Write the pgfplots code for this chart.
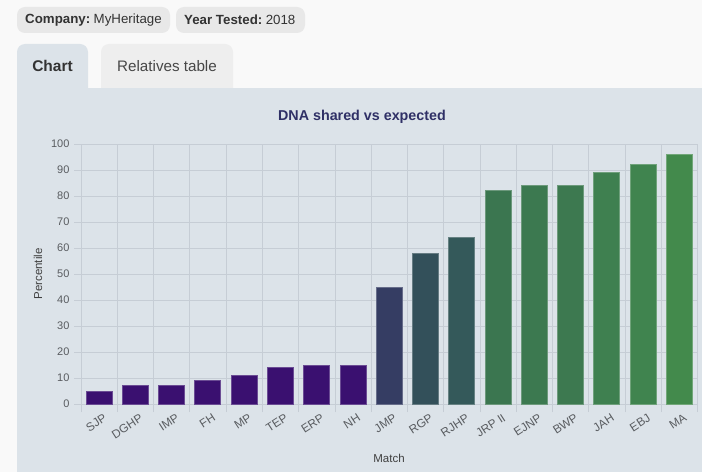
\documentclass[border=0pt]{standalone}
\usepackage{fontspec}
\setmainfont{Liberation Sans}
\usepackage{pgfplots}
\pgfplotsset{compat=1.18}
\definecolor{pagebg}{HTML}{F9F9F9}
\definecolor{panel}{HTML}{DCE3E9}
\definecolor{pill}{HTML}{E8E8E8}
\definecolor{tabtwo}{HTML}{EEEEEE}
\definecolor{gridc}{HTML}{C6CDD5}
\definecolor{ticklab}{HTML}{595C60}
\definecolor{titlec}{HTML}{2F3066}
\definecolor{b1}{HTML}{3A1070}
\definecolor{b2}{HTML}{353D63}
\definecolor{b3}{HTML}{33505A}
\definecolor{b4}{HTML}{34595A}
\definecolor{b5}{HTML}{3B7650}
\definecolor{b6}{HTML}{3C7950}
\definecolor{b7}{HTML}{3D7950}
\definecolor{b8}{HTML}{3F8050}
\definecolor{b9}{HTML}{40844F}
\definecolor{b10}{HTML}{438A4C}
\begin{document}
\begin{tikzpicture}
\useasboundingbox (0pt,0pt) rectangle (702pt,472pt);
\fill[pagebg] (0pt,0pt) rectangle (702pt,472pt);
% pills
\fill[pill, rounded corners=8pt] (17pt,439pt) rectangle (170pt,465pt);
\fill[pill, rounded corners=8pt] (176pt,439pt) rectangle (305pt,465pt);
\node[anchor=west, text=black!80, font=\fontsize{13.3}{15}\selectfont, inner sep=0pt] at (25pt,452pt) {\textbf{Company:}\hspace{3.5pt}MyHeritage};
\node[anchor=west, text=black!80, font=\fontsize{13.3}{15}\selectfont, inner sep=0pt] at (184pt,452pt) {\textbf{Year Tested:}\hspace{3.5pt}2018};
% tabs
\fill[panel, rounded corners=8pt] (17pt,370pt) rectangle (88pt,428pt);
\fill[tabtwo, rounded corners=8pt] (101pt,370pt) rectangle (233pt,428pt);
\fill[panel] (17pt,0pt) rectangle (702pt,384pt);
\node[text=black!80, font=\bfseries\fontsize{15.5}{18}\selectfont, inner sep=0pt] at (52.5pt,406pt) {Chart};
\node[text=black!72, font=\fontsize{15.2}{18}\selectfont, inner sep=0pt] at (167pt,406pt) {Relatives table};
% title and labels
\node[text=titlec, font=\bfseries\fontsize{14.3}{17}\selectfont, inner sep=0pt] at (362pt,355pt) {DNA shared vs expected};
\node[text=black!75, font=\fontsize{11.5}{13}\selectfont, inner sep=0pt, rotate=90] at (38pt,198pt) {Percentile};
\node[text=black!75, font=\fontsize{11.5}{13}\selectfont, inner sep=0pt] at (389pt,14pt) {Match};
\begin{axis}[
  at={(81pt,68pt)}, anchor=south west,
  scale only axis, width=616.5pt, height=260pt,
  xmin=-0.5, xmax=16.5, ymin=0, ymax=100,
  axis line style={draw=none},
  xtick={0,...,16},
  xticklabels={SJP,DGHP,IMP,FH,MP,TEP,ERP,NH,JMP,RGP,RJHP,JRP II,EJNP,BWP,JAH,EBJ,MA},
  minor xtick={-0.5,0.5,...,16.5},
  ytick={0,10,...,100},
  xminorgrids=true, ymajorgrids=true, xmajorgrids=false,
  grid style={gridc, line width=0.7pt},
  minor grid style={gridc, line width=0.7pt},
  tick align=outside, xtick pos=bottom, ytick pos=left,
  major tick length=7pt, minor tick length=8pt,
  tick style={gridc, line width=0.7pt},
  every major x tick/.append style={draw=none},
  ticklabel style={text=ticklab, font=\fontsize{11}{13}\selectfont},
  /pgf/number format/assume math mode=true,
  xticklabel style={rotate=33, anchor=north east, font=\fontsize{11.8}{13}\selectfont, xshift=3pt, yshift=-3pt, inner sep=1pt},
  yticklabel style={xshift=-1pt},
  every axis plot/.append style={ybar, bar width=26pt, bar shift=0pt, line width=0.9pt},
]
\addplot[fill=b1, draw=b1!75!white] coordinates {(0,5)};
\addplot[fill=b1, draw=b1!75!white] coordinates {(1,7)};
\addplot[fill=b1, draw=b1!75!white] coordinates {(2,7)};
\addplot[fill=b1, draw=b1!75!white] coordinates {(3,9)};
\addplot[fill=b1, draw=b1!75!white] coordinates {(4,11)};
\addplot[fill=b1, draw=b1!75!white] coordinates {(5,14)};
\addplot[fill=b1, draw=b1!75!white] coordinates {(6,15)};
\addplot[fill=b1, draw=b1!75!white] coordinates {(7,15)};
\addplot[fill=b2, draw=b2!75!white] coordinates {(8,45)};
\addplot[fill=b3, draw=b3!75!white] coordinates {(9,58)};
\addplot[fill=b4, draw=b4!75!white] coordinates {(10,64)};
\addplot[fill=b5, draw=b5!75!white] coordinates {(11,82)};
\addplot[fill=b6, draw=b6!75!white] coordinates {(12,84)};
\addplot[fill=b7, draw=b7!75!white] coordinates {(13,84)};
\addplot[fill=b8, draw=b8!75!white] coordinates {(14,89)};
\addplot[fill=b9, draw=b9!75!white] coordinates {(15,92)};
\addplot[fill=b10, draw=b10!75!white] coordinates {(16,96)};
\end{axis}
\end{tikzpicture}
\end{document}
